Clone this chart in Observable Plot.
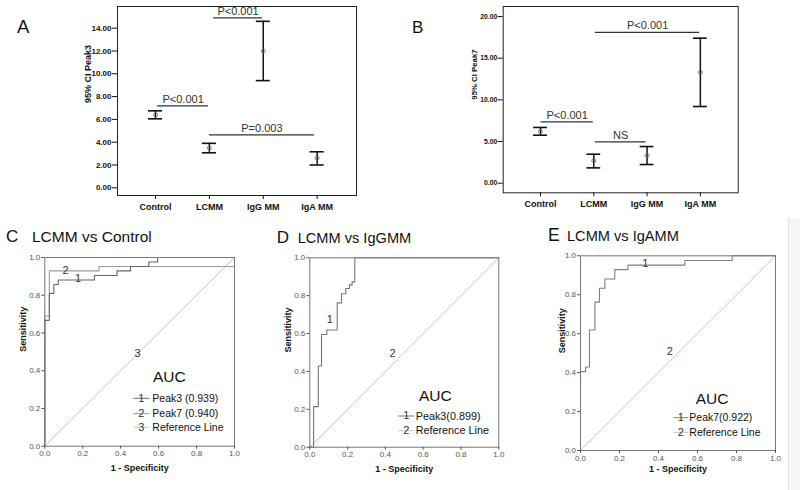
<!DOCTYPE html>
<html>
<head>
<meta charset="utf-8">
<script src="https://cdn.jsdelivr.net/npm/d3@7"></script>
<script src="https://cdn.jsdelivr.net/npm/@observablehq/plot@0.6"></script>
<style>
  body { margin: 0; background: #fff; }
  #fig { position: relative; width: 800px; height: 490px; background: #fff; overflow: hidden;
         font-family: 'Liberation Sans', Arial, Helvetica, sans-serif; color: #111; }
  .abs { position: absolute; white-space: nowrap; line-height: 1; }
</style>
</head>
<body>
<div id="fig"></div>
<script>
// ---------- DATA ----------
const groups = ["Control", "LCMM", "IgG MM", "IgA MM"];

const peak3Mean = [6.4, 3.5, 12.0, 2.6];
const peak3Low  = [6.05, 3.07, 9.4, 2.0];
const peak3High = [6.75, 3.9, 14.6, 3.16];
const peak3Ticks = [0, 2, 4, 6, 8, 10, 12, 14];
const peak3Brackets = [
  {from: 1.08, to: 1.985, y: 14.91, label: "P<0.001"},
  {from: 0.04, to: 0.985, y: 7.19, label: "P<0.001"},
  {from: 1.0, to: 2.95, y: 4.65, label: "P=0.003"}
];

const peak7Mean = [6.2, 2.69, 3.32, 13.3];
const peak7Low  = [5.76, 1.84, 2.24, 9.2];
const peak7High = [6.69, 3.48, 4.4, 17.4];
const peak7Ticks = [0, 5, 10, 15, 20];
const peak7Brackets = [
  {from: 1.03, to: 2.99, y: 18.1, label: "P<0.001"},
  {from: 0.01, to: 0.99, y: 7.37, label: "P<0.001"},
  {from: 1.03, to: 1.98, y: 4.97, label: "NS"}
];

const rocTicks = [0, 0.2, 0.4, 0.6, 0.8, 1.0];
const refLine = [[0, 0], [1, 1]];

// Panel C: LCMM vs Control
const rocC_peak3 = [[0,0],[0,0.667],[0.024,0.81],[0.048,0.857],[0.071,0.881],[0.262,0.905],[0.381,0.929],[0.452,0.952],[0.548,0.976],[0.595,1],[1,1]];
const rocC_peak7 = [[0,0],[0,0.69],[0.024,0.929],[0.286,0.952],[1,0.952],[1,1]];
const rocC_labels = [{x:0.109, y:0.93, t:"2"}, {x:0.176, y:0.89, t:"1"}, {x:0.489, y:0.491, t:"3"}];
const rocC_legend = ["Peak3 (0.939)", "Peak7 (0.940)", "Reference Line"];

// Panel D: LCMM vs IgGMM
const rocD_peak3 = [[0,0],[0.02,0.214],[0.045,0.429],[0.062,0.595],[0.09,0.619],[0.145,0.762],[0.168,0.81],[0.19,0.838],[0.21,0.857],[0.224,0.873],[0.238,1],[1,1]];
const rocD_labels = [{x:0.106, y:0.676, t:"1"}, {x:0.438, y:0.493, t:"2"}];
const rocD_legend = ["Peak3(0.899)", "Reference Line"];

// Panel E: LCMM vs IgAMM
const rocE_peak7 = [[0,0],[0,0.405],[0.026,0.429],[0.046,0.619],[0.074,0.762],[0.097,0.833],[0.125,0.881],[0.176,0.929],[0.244,0.952],[0.535,0.976],[0.778,1],[1,1]];
const rocE_labels = [{x:0.333, y:0.962, t:"1"}, {x:0.458, y:0.51, t:"2"}];
const rocE_legend = ["Peak7(0.922)", "Reference Line"];

// ---------- LAYOUT ----------
const FONT = "'Liberation Sans', Arial, Helvetica, sans-serif";
const fig = document.getElementById("fig");

function place(node, left, top) {
  const d = document.createElement("div");
  d.className = "abs";
  d.style.left = left + "px";
  d.style.top = top + "px";
  d.appendChild(node);
  fig.appendChild(d);
}
function label(text, left, baseline, size, extra) {
  const d = document.createElement("div");
  d.className = "abs";
  d.textContent = text;
  d.style.left = left + "px";
  d.style.top = (baseline - 0.8465 * size) + "px";
  d.style.fontSize = size + "px";
  if (extra) Object.assign(d.style, extra);
  fig.appendChild(d);
}

function ciPanel(o) {
  const rows = groups.map((g, i) => ({i, g, mean: o.means[i], lo: o.lows[i], hi: o.highs[i]}));
  const cap = 0.13;
  return Plot.plot({
    width: o.width, height: o.height,
    marginLeft: o.ml, marginRight: o.mr, marginTop: o.mt, marginBottom: o.mb,
    x: {type: "linear", domain: o.xDomain},
    y: {domain: o.yDomain},
    style: {fontFamily: FONT, background: "transparent", color: "#111", overflow: "visible"},
    marks: [
      Plot.frame({stroke: "#222", strokeWidth: 1}),
      Plot.ruleX(rows, {x: "i", y1: "lo", y2: "hi", stroke: "#111", strokeWidth: 1.5}),
      Plot.ruleY(rows, {y: "lo", x1: d => d.i - cap, x2: d => d.i + cap, stroke: "#111", strokeWidth: 1.6}),
      Plot.ruleY(rows, {y: "hi", x1: d => d.i - cap, x2: d => d.i + cap, stroke: "#111", strokeWidth: 1.6}),
      Plot.dot(rows, {x: "i", y: "mean", r: 2, stroke: "#666", strokeWidth: 0.8, fill: "none"}),
      Plot.ruleY(o.brackets, {y: "y", x1: "from", x2: "to", stroke: "#333", strokeWidth: 1.2}),
      Plot.text(o.brackets, {x: d => (d.from + d.to) / 2, y: "y", text: "label", dy: -6.5, fontSize: 11, fill: "#333"}),
      Plot.axisY({ticks: o.ticks, tickFormat: d3.format(".2f"), tickSize: 5, tickPadding: 1,
                  fontSize: o.tickFont, fontWeight: "bold", label: null}),
      Plot.axisX({ticks: groups.map((_, i) => i), tickFormat: i => groups[i], tickSize: 4, tickPadding: 4,
                  fontSize: 9, fontWeight: "bold", label: null}),
      Plot.text([o.yLabel], {text: d => d, frameAnchor: "left", rotate: -90, dx: o.yLabelDx, dy: o.yLabelDy,
                  fontSize: o.yLabelFont, fontWeight: "bold", fill: "#111"})
    ]
  });
}

function legendMark(entries, colors, cfg) {
  return (index, scales, values, dims) => {
    const right = dims.width - dims.marginRight;
    const bottom = dims.height - dims.marginBottom;
    const g = d3.create("svg:g").attr("font-family", FONT).attr("text-anchor", "start");
    g.append("text").attr("x", right - cfg.aucLeft).attr("y", bottom - cfg.aucY)
      .attr("dy", "0.35em").attr("text-anchor", "start").attr("font-size", 15.5).attr("fill", "#111").text("AUC");
    entries.forEach((e, k) => {
      const y = bottom - cfg.rows[k];
      const x1 = right - cfg.lineL, x2 = right - cfg.lineR;
      g.append("line").attr("x1", x1).attr("x2", x2).attr("y1", y).attr("y2", y)
        .attr("stroke", colors[k]).attr("stroke-width", 1);
      g.append("text").attr("x", (x1 + x2) / 2).attr("y", y).attr("dy", "0.3em")
        .attr("text-anchor", "middle").attr("font-size", 11).attr("fill", "#333").text(String(k + 1));
      g.append("text").attr("x", right - cfg.textLeft).attr("y", y).attr("dy", "0.35em")
        .attr("text-anchor", "start")
        .attr("font-size", cfg.fontSize || 10.5).attr("fill", "#111").text(e);
    });
    return g.node();
  };
}

function rocPanel(o) {
  return Plot.plot({
    width: o.width, height: o.height,
    marginLeft: o.ml, marginRight: o.mr, marginTop: o.mt, marginBottom: o.mb,
    x: {domain: [0, 1]},
    y: {domain: [0, 1]},
    style: {fontFamily: FONT, background: "transparent", color: "#111", overflow: "visible"},
    marks: [
      Plot.line(refLine, {x: d => d[0], y: d => d[1], stroke: "#c6c6c6", strokeWidth: 1}),
      ...o.curves.map(c => Plot.line(c.pts, {x: d => d[0], y: d => d[1], curve: "step-after",
                                              stroke: c.color, strokeWidth: 1.1})),
      Plot.frame({stroke: "#777", strokeWidth: 1}),
      Plot.axisX({ticks: rocTicks, tickFormat: d3.format(".1f"), tickSize: 3, tickPadding: 1.5,
                  fontSize: 8, color: "#555", label: null}),
      Plot.axisY({ticks: rocTicks, tickFormat: d3.format(".1f"), tickSize: 3, tickPadding: 1.5,
                  fontSize: 8, color: "#555", label: null}),
      Plot.text(["1 - Specificity"], {text: d => d, frameAnchor: "bottom", dy: o.xLabelDy,
                  fontSize: 9, fontWeight: "bold", fill: "#111"}),
      Plot.text(["Sensitivity"], {text: d => d, frameAnchor: "left", rotate: -90, dx: o.yLabelDx,
                  fontSize: 9, fontWeight: "bold", fill: "#111"}),
      Plot.text(o.labels, {x: "x", y: "y", text: "t", fontSize: 11, fill: "#333"}),
      legendMark(o.legend, o.legendColors, o.legendCfg)
    ]
  });
}

// ---------- PANEL A ----------
place(ciPanel({
  means: peak3Mean, lows: peak3Low, highs: peak3High, ticks: peak3Ticks, brackets: peak3Brackets,
  width: 380, height: 215, ml: 117, mr: 24, mt: 6, mb: 20,
  xDomain: [-0.705, 3.73], yDomain: [-0.675, 15.9],
  yLabel: "95% CI Peak3", tickFont: 8, yLabelFont: 9, yLabelDx: -29, yLabelDy: 2
}), 0, 0);
label("A", 17, 33.3, 18.5);

// ---------- PANEL B ----------
place(ciPanel({
  means: peak7Mean, lows: peak7Low, highs: peak7High, ticks: peak7Ticks, brackets: peak7Brackets,
  width: 400, height: 212, ml: 102.7, mr: 62.3, mt: 6, mb: 19.7,
  xDomain: [-0.70, 3.71], yDomain: [-1.15, 21.2],
  yLabel: "95% CI Peak7", tickFont: 6.8, yLabelFont: 7.8, yLabelDx: -28.7, yLabelDy: 0
}), 400, 0);
label("B", 412, 33.3, 17);

// ---------- PANEL C ----------
place(rocPanel({
  width: 260, height: 245, ml: 44.3, mr: 26, mt: 12, mb: 44.3,
  curves: [{pts: rocC_peak7, color: "#9c9c9c"}, {pts: rocC_peak3, color: "#666"}],
  labels: rocC_labels, legend: rocC_legend, legendColors: ["#666", "#9c9c9c", "#c6c6c6"],
  legendCfg: {aucLeft: 81, aucY: 69, rows: [47.4, 32, 18.4], textLeft: 81.7, lineL: 100.7, lineR: 84.7},
  xLabelDy: 25, yLabelDx: -21.6
}), 0, 245);
label("C", 6, 242.7, 17);
label("LCMM vs Control", 32, 242.5, 15.5);

// ---------- PANEL D ----------
place(rocPanel({
  width: 260, height: 245, ml: 44.3, mr: 26.7, mt: 12.3, mb: 43.3,
  curves: [{pts: rocD_peak3, color: "#777"}],
  labels: rocD_labels, legend: rocD_legend, legendColors: ["#777", "#c6c6c6"],
  legendCfg: {aucLeft: 79.3, aucY: 50.7, rows: [30.7, 16], textLeft: 82.6, lineL: 100, lineR: 84, fontSize: 10.8},
  xLabelDy: 24.3, yLabelDx: -21.6
}), 265, 245);
label("D", 276.7, 243.3, 17);
label("LCMM vs IgGMM", 297.7, 243.3, 14.6);

// ---------- PANEL E ----------
place(rocPanel({
  width: 270, height: 247, ml: 50, mr: 25, mt: 12.3, mb: 40,
  curves: [{pts: rocE_peak7, color: "#808080"}],
  labels: rocE_labels, legend: rocE_legend, legendColors: ["#808080", "#c6c6c6"],
  legendCfg: {aucLeft: 79.3, aucY: 51.7, rows: [32.3, 17.7], textLeft: 85.7, lineL: 101.7, lineR: 86.7},
  xLabelDy: 21, yLabelDx: -18.3
}), 530, 243);
label("E", 548, 241.7, 17.5);
label("LCMM vs IgAMM", 567, 241.7, 14.6);

// faint edge at right
const edge = document.createElement("div");
edge.className = "abs";
Object.assign(edge.style, {left: "788px", top: "218px", width: "12px", height: "272px",
  background: "#f6f6f6", borderLeft: "1px solid #e2e2e2"});
fig.appendChild(edge);
</script>
</body>
</html>
